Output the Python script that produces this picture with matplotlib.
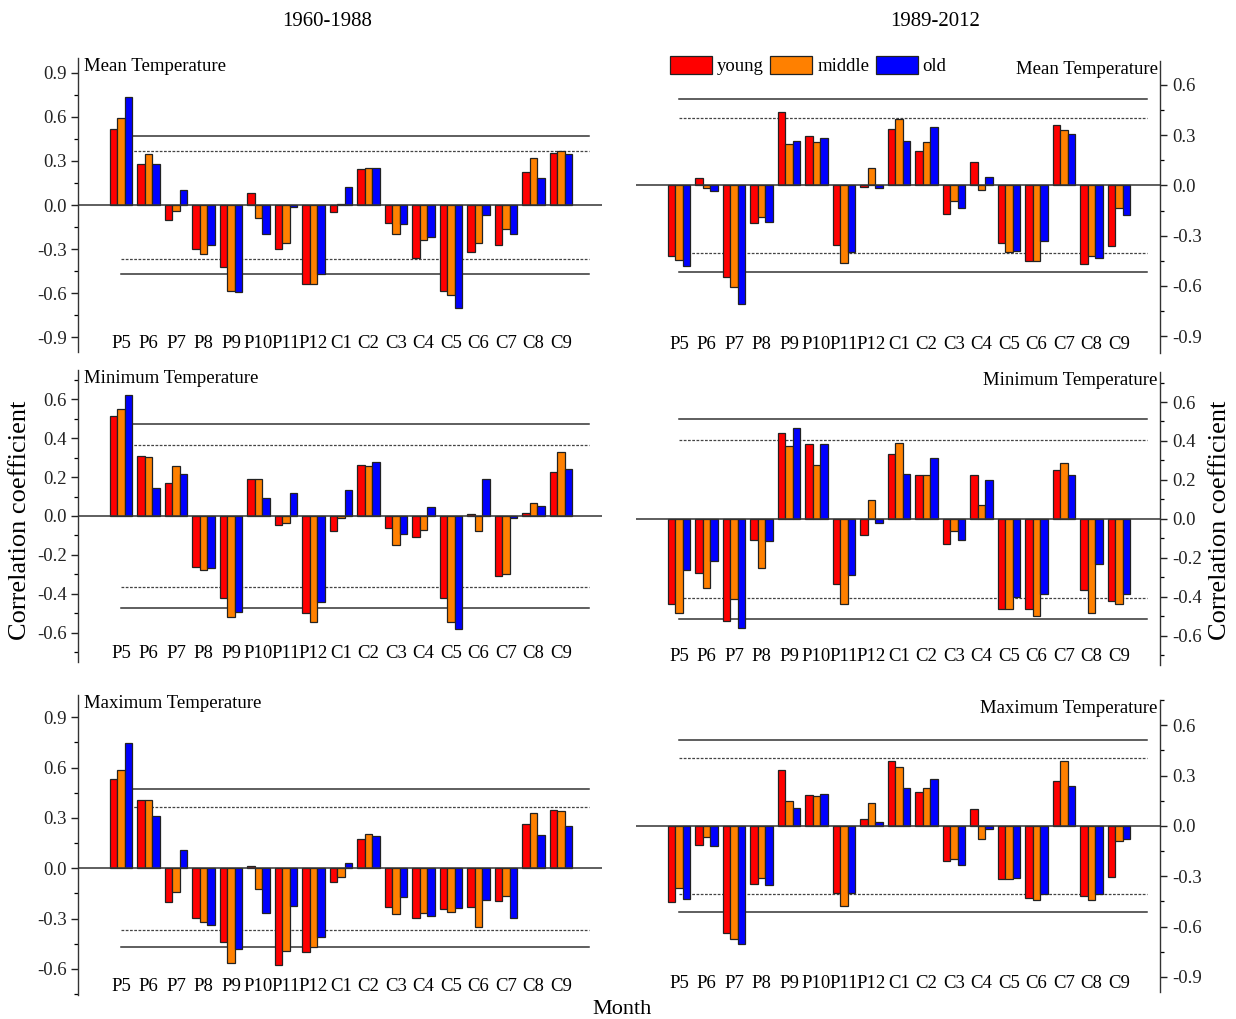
import numpy as np
import matplotlib
matplotlib.use("Agg")
import matplotlib.pyplot as plt
from matplotlib.ticker import MultipleLocator

plt.rcParams["font.family"] = ["Liberation Serif", "DejaVu Serif"]
plt.rcParams["font.size"] = 13.5

months = ["P5", "P6", "P7", "P8", "P9", "P10", "P11", "P12",
          "C1", "C2", "C3", "C4", "C5", "C6", "C7", "C8", "C9"]
groups = ["young", "middle", "old"]
colors = ["#FF0000", "#FF8000", "#0000FF"]

# 1960-1988
mean_early_young = [0.52, 0.28, -0.10, -0.30, -0.42, 0.085, -0.30, -0.535, -0.05, 0.245, -0.12, -0.36, -0.585, -0.32, -0.27, 0.225, 0.355]
mean_early_middle = [0.59, 0.35, -0.04, -0.335, -0.585, -0.09, -0.26, -0.535, 0.01, 0.255, -0.20, -0.235, -0.615, -0.26, -0.16, 0.32, 0.37]
mean_early_old = [0.735, 0.28, 0.10, -0.27, -0.59, -0.195, -0.015, -0.47, 0.12, 0.255, -0.13, -0.22, -0.70, -0.065, -0.20, 0.185, 0.35]

min_early_young = [0.515, 0.31, 0.17, -0.26, -0.42, 0.19, -0.045, -0.50, -0.075, 0.26, -0.06, -0.11, -0.42, 0.012, -0.31, 0.017, 0.225]
min_early_middle = [0.55, 0.305, 0.255, -0.278, -0.52, 0.192, -0.034, -0.542, -0.012, 0.257, -0.149, -0.072, -0.545, -0.075, -0.30, 0.065, 0.328]
min_early_old = [0.623, 0.146, 0.216, -0.266, -0.494, 0.094, 0.12, -0.44, 0.134, 0.278, -0.094, 0.048, -0.58, 0.19, -0.012, 0.053, 0.242]

max_early_young = [0.533, 0.405, -0.203, -0.296, -0.438, 0.016, -0.578, -0.497, -0.079, 0.174, -0.231, -0.296, -0.245, -0.231, -0.193, 0.264, 0.349]
max_early_middle = [0.586, 0.41, -0.14, -0.322, -0.562, -0.124, -0.493, -0.466, -0.053, 0.207, -0.272, -0.268, -0.26, -0.349, -0.162, 0.332, 0.339]
max_early_old = [0.746, 0.314, 0.112, -0.335, -0.478, -0.268, -0.227, -0.409, 0.034, 0.193, -0.168, -0.282, -0.235, -0.187, -0.298, 0.201, 0.255]

# 1989-2012
mean_late_young = [-0.423, 0.042, -0.544, -0.222, 0.439, 0.296, -0.354, -0.01, 0.338, 0.207, -0.173, 0.137, -0.344, -0.451, 0.362, -0.467, -0.364]
mean_late_middle = [-0.447, -0.016, -0.606, -0.189, 0.248, 0.258, -0.463, 0.101, 0.397, 0.256, -0.093, -0.028, -0.40, -0.451, 0.33, -0.423, -0.135]
mean_late_old = [-0.479, -0.036, -0.707, -0.22, 0.266, 0.282, -0.395, -0.014, 0.266, 0.348, -0.135, 0.048, -0.39, -0.334, 0.306, -0.433, -0.179]

min_late_young = [-0.439, -0.28, -0.525, -0.11, 0.441, 0.384, -0.333, -0.084, 0.333, 0.223, -0.13, 0.223, -0.463, -0.465, 0.25, -0.364, -0.42]
min_late_middle = [-0.482, -0.353, -0.412, -0.25, 0.376, 0.276, -0.439, 0.098, 0.389, 0.223, -0.06, 0.069, -0.463, -0.50, 0.285, -0.485, -0.436]
min_late_old = [-0.261, -0.214, -0.559, -0.111, 0.467, 0.383, -0.288, -0.019, 0.228, 0.314, -0.108, 0.202, -0.40, -0.388, 0.223, -0.233, -0.386]

max_late_young = [-0.453, -0.113, -0.638, -0.344, 0.332, 0.185, -0.397, 0.042, 0.387, 0.205, -0.209, 0.101, -0.314, -0.431, 0.27, -0.419, -0.306]
max_late_middle = [-0.372, -0.066, -0.672, -0.308, 0.147, 0.177, -0.475, 0.139, 0.35, 0.228, -0.197, -0.077, -0.318, -0.439, 0.389, -0.439, -0.089]
max_late_old = [-0.437, -0.119, -0.705, -0.352, 0.107, 0.193, -0.397, 0.026, 0.228, 0.278, -0.234, -0.018, -0.312, -0.403, 0.238, -0.407, -0.077]

# significance levels (0.05 dashed, 0.01 solid)
sig_early = (0.367, 0.471)
sig_late = (0.404, 0.515)

W, H = 1236, 1019
fig = plt.figure(figsize=(W / 100, H / 100), dpi=100)


def add_axes(x0, x1, y0, y1):
    return fig.add_axes([x0 / W, 1 - y1 / H, (x1 - x0) / W, (y1 - y0) / H])


x = np.arange(len(months))
bw = 0.27


def draw_panel(ax, series, sig, title, ylim, major, side):
    for i, (vals, c) in enumerate(zip(series, colors)):
        ax.bar(x + (i - 1) * bw, vals, width=bw, color=c, edgecolor="#222222",
               linewidth=0.9, label=groups[i], zorder=3)
    ax.axhline(0, color="#333333", lw=1.1, zorder=4)
    d05, d01 = sig
    for s in (1, -1):
        ax.plot([0, 17], [s * d01, s * d01], color="#333333", lw=1.1, zorder=2)
        ax.plot([0, 17], [s * d05, s * d05], color="#444444", lw=0.9,
                ls=(0, (2.2, 1.2)), zorder=2)
    ax.set_xlim(-1.55, 17.5)
    ax.set_ylim(*ylim)
    ax.yaxis.set_major_locator(MultipleLocator(major))
    ax.yaxis.set_minor_locator(MultipleLocator(major / 2))
    ax.set_xticks(x)
    ax.set_xticklabels(months)
    ax.tick_params(axis="x", length=0, pad=-12, labelsize=13.5)
    for sp in ("top", "bottom", "left", "right"):
        ax.spines[sp].set_visible(False)
    ax.spines[side].set_visible(True)
    ax.spines[side].set_color("#333333")
    ax.spines[side].set_linewidth(1.0)
    if side == "left":
        ax.yaxis.tick_left()
        ax.tick_params(axis="y", which="both", left=True, right=False,
                       labelleft=True, labelright=False)
        ax.text(0.01, 1.0, title, transform=ax.transAxes, ha="left",
                va="top", fontsize=13.5)
    else:
        ax.yaxis.tick_right()
        ax.tick_params(axis="y", which="both", left=False, right=True,
                       labelleft=False, labelright=True)
        ax.text(0.995, 1.0, title, transform=ax.transAxes, ha="right",
                va="top", fontsize=13.5)
    ax.tick_params(axis="y", which="major", length=5, width=1.0,
                   direction="out", labelsize=13.5, colors="#222222")
    ax.tick_params(axis="y", which="minor", length=3, width=0.9,
                   direction="out")
    fmt = matplotlib.ticker.FormatStrFormatter("%.1f")
    ax.yaxis.set_major_formatter(fmt)
    ax.set_facecolor("none")


LX0, LX1 = 78.4, 602.3
RX0, RX1 = 636.4, 1160.3

ax1 = add_axes(LX0, LX1, 58, 352)
draw_panel(ax1, [mean_early_young, mean_early_middle, mean_early_old], sig_early,
           "Mean Temperature", (-1.0, 1.0), 0.3, "left")
ax2 = add_axes(RX0, RX1, 60.5, 353)
draw_panel(ax2, [mean_late_young, mean_late_middle, mean_late_old], sig_late,
           "Mean Temperature", (-1.0, 0.745), 0.3, "right")

ax3 = add_axes(LX0, LX1, 370, 662)
draw_panel(ax3, [min_early_young, min_early_middle, min_early_old], sig_early,
           "Minimum Temperature", (-0.75, 0.75), 0.2, "left")
ax4 = add_axes(RX0, RX1, 372, 665)
draw_panel(ax4, [min_late_young, min_late_middle, min_late_old], sig_late,
           "Minimum Temperature", (-0.75, 0.754), 0.2, "right")

ax5 = add_axes(LX0, LX1, 695, 995)
draw_panel(ax5, [max_early_young, max_early_middle, max_early_old], sig_early,
           "Maximum Temperature", (-0.755, 1.033), 0.3, "left")
ax6 = add_axes(RX0, RX1, 700, 992)
draw_panel(ax6, [max_late_young, max_late_middle, max_late_old], sig_late,
           "Maximum Temperature", (-0.99, 0.751), 0.3, "right")

ax2.legend(loc="center left", bbox_to_anchor=(0.064, 0.983), ncol=3,
           frameon=False, handlelength=2.25, handleheight=1.1,
           handletextpad=0.25, columnspacing=0.35, borderpad=0,
           borderaxespad=0, fontsize=13.5)

fig.text(327 / W, 1 - 22 / H, "1960-1988", ha="center", va="center", fontsize=15)
fig.text(935 / W, 1 - 22 / H, "1989-2012", ha="center", va="center", fontsize=15)
fig.text(622 / W, 1 - 1010 / H, "Month", ha="center", va="center", fontsize=16)
fig.text(20 / W, 1 - 520 / H, "Correlation coefficient", ha="center",
         va="center", rotation=90, fontsize=19)
fig.text(1220 / W, 1 - 520 / H, "Correlation coefficient", ha="center",
         va="center", rotation=90, fontsize=19)

fig.savefig("out.png", dpi=100, facecolor="white")
